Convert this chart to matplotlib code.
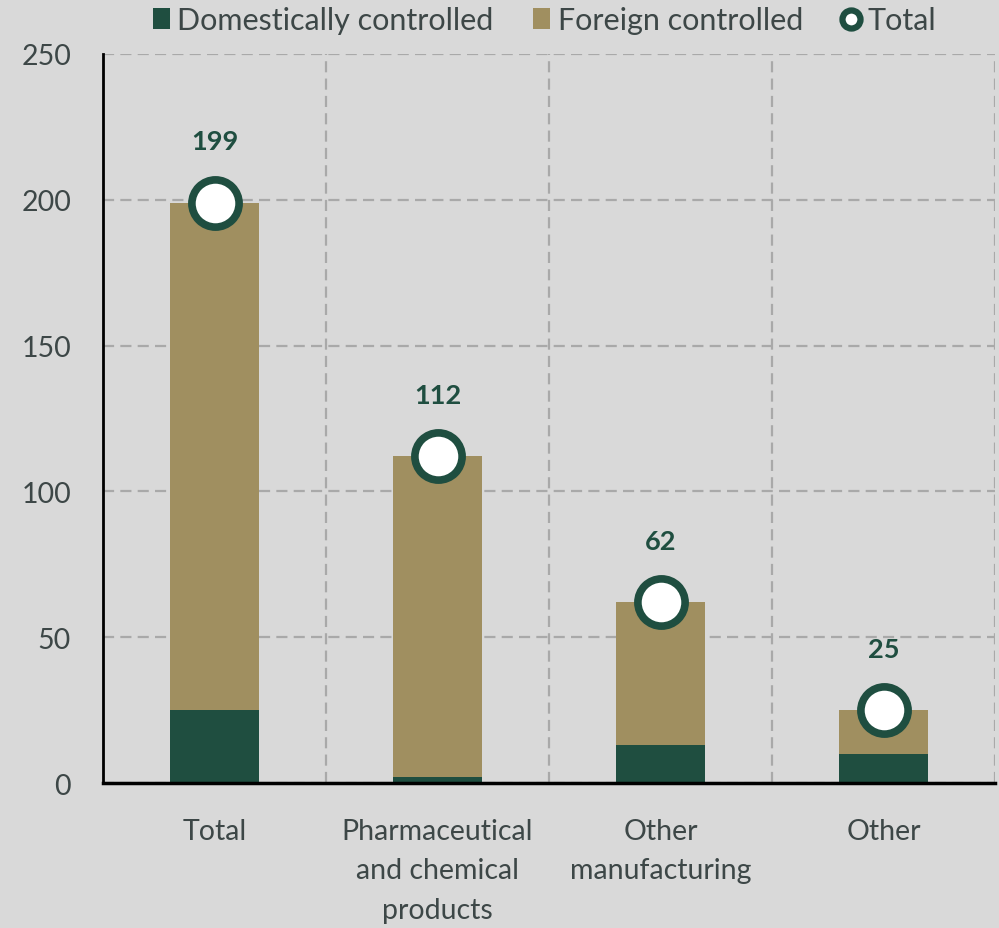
import matplotlib
matplotlib.use("Agg")
import matplotlib.pyplot as plt
from matplotlib.lines import Line2D
from matplotlib.patches import Patch

categories = ["Total", "Pharmaceutical\nand chemical\nproducts", "Other\nmanufacturing", "Other"]
domestic = [25, 2, 13, 10]
totals = [199, 112, 62, 25]
foreign = [t - d for t, d in zip(totals, domestic)]
yticks = [0, 50, 100, 150, 200, 250]

bg = "#d9d9d9"
green = "#1f4e40"
tan = "#a08f60"
text_col = "#3d4747"
grid_col = "#a9a9a9"

plt.rcParams["font.family"] = ["Lato", "DejaVu Sans"]

fig = plt.figure(figsize=(9.99, 9.29), dpi=100, facecolor=bg)
ax = fig.add_axes([0.1031, 0.156, 0.893, 0.7848], facecolor=bg)

x = list(range(len(categories)))
ax.bar(x, domestic, width=0.4, color=green, zorder=2)
ax.bar(x, foreign, width=0.4, bottom=domestic, color=tan, zorder=2)
ax.plot(x, totals, linestyle="none", marker="o", markersize=34,
        markerfacecolor="white", markeredgecolor=green, markeredgewidth=5.5, zorder=3)
for xi, t in zip(x, totals):
    ax.text(xi, t + 21, f"{t}", ha="center", va="center", fontsize=19.5,
            fontweight="bold", color=green)

ax.set_xlim(-0.5, 3.5)
ax.set_ylim(0, 250)
ax.set_yticks(yticks)
ax.set_xticks(x)
ax.set_xticklabels(categories, fontsize=20.5, color=text_col, linespacing=1.65)
ax.tick_params(axis="y", labelsize=20.5, labelcolor=text_col, length=0, pad=23)
ax.tick_params(axis="x", length=0, pad=25)

dash = (0, (5, 2.8))
ax.grid(axis="y", color=grid_col, linestyle=dash, linewidth=1.6, zorder=0)
for b in [0.5, 1.5, 2.5, 3.5]:
    ax.axvline(b, color=grid_col, linestyle=dash, linewidth=1.6, zorder=0)

for s in ["top", "right"]:
    ax.spines[s].set_visible(False)
ax.spines["left"].set_linewidth(2)
ax.spines["bottom"].set_linewidth(2.5)
ax.spines["left"].set_color("black")
ax.spines["bottom"].set_color("black")

handles = [
    Patch(facecolor=green, label="Domestically controlled"),
    Patch(facecolor=tan, label="Foreign controlled"),
    Line2D([], [], linestyle="none", marker="o", markersize=13, markerfacecolor="white",
           markeredgecolor=green, markeredgewidth=4.5, label="Total"),
]
fig.legend(handles=handles, loc="center", bbox_to_anchor=(0.545, 0.977), ncol=3,
           frameon=False, fontsize=22, handlelength=0.55, handleheight=0.65,
           handletextpad=0.25, columnspacing=1.3, labelcolor=text_col)

fig.savefig("out.png", dpi=100, facecolor=bg)
